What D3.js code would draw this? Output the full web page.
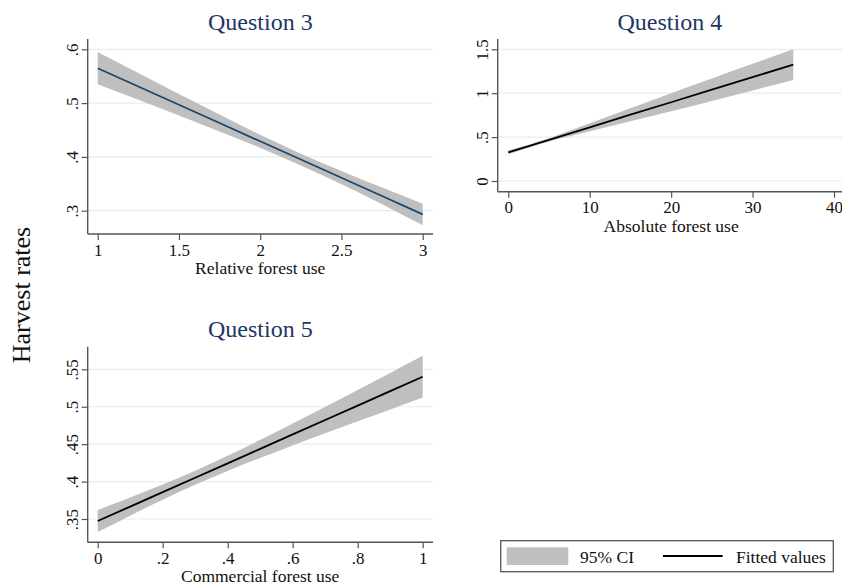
<!DOCTYPE html>
<html>
<head>
<meta charset="utf-8">
<script src="https://cdn.jsdelivr.net/npm/d3@7"></script>
<style>
  html, body { margin: 0; padding: 0; background: #fff; }
  svg { display: block; }
  text { font-family: "Liberation Serif", "Times New Roman", serif; }
</style>
</head>
<body>
<svg id="chart" width="842" height="586"></svg>
<script>
// ---------- DATA ----------
// Question 3 : Relative forest use
const q3X   = [1, 1.25, 1.5, 1.75, 2, 2.25, 2.5, 2.75, 3];
const q3Fit = [0.5647, 0.5308, 0.4969, 0.4630, 0.4290, 0.3951, 0.3612, 0.3273, 0.2933];
const q3Lo  = [0.535, 0.506, 0.477, 0.447, 0.417, 0.384, 0.349, 0.312, 0.273];
const q3Hi  = [0.595, 0.556, 0.517, 0.479, 0.441, 0.406, 0.374, 0.343, 0.313];
const q3XTicks = [1, 1.5, 2, 2.5, 3];
const q3XLabels = ["1", "1.5", "2", "2.5", "3"];
const q3YTicks = [0.3, 0.4, 0.5, 0.6];
const q3YLabels = [".3", ".4", ".5", ".6"];

// Question 4 : Absolute forest use
const q4X   = [0, 5, 10, 15, 20, 25, 30, 35];
const q4Fit = [0.326, 0.469, 0.612, 0.755, 0.897, 1.040, 1.183, 1.326];
const q4Lo  = [0.304, 0.450, 0.567, 0.680, 0.794, 0.912, 1.031, 1.151];
const q4Hi  = [0.348, 0.488, 0.657, 0.830, 1.000, 1.168, 1.335, 1.501];
const q4XTicks = [0, 10, 20, 30, 40];
const q4XLabels = ["0", "10", "20", "30", "40"];
const q4YTicks = [0, 0.5, 1, 1.5];
const q4YLabels = ["0", ".5", "1", "1.5"];

// Question 5 : Commercial forest use
const q5X   = [0, 0.1, 0.2, 0.3, 0.4, 0.5, 0.6, 0.7, 0.8, 0.9, 1];
const q5Fit = [0.3473, 0.3666, 0.3859, 0.4051, 0.4244, 0.4437, 0.4630, 0.4823, 0.5015, 0.5208, 0.5401];
const q5Lo  = [0.3326, 0.3545, 0.3757, 0.3956, 0.4142, 0.4316, 0.4483, 0.4646, 0.4805, 0.4964, 0.5122];
const q5Hi  = [0.3620, 0.3787, 0.3961, 0.4146, 0.4346, 0.4558, 0.4777, 0.5000, 0.5225, 0.5452, 0.5680];
const q5XTicks = [0, 0.2, 0.4, 0.6, 0.8, 1];
const q5XLabels = ["0", ".2", ".4", ".6", ".8", "1"];
const q5YTicks = [0.35, 0.4, 0.45, 0.5, 0.55];
const q5YLabels = [".35", ".4", ".45", ".5", ".55"];

const titles = ["Question 3", "Question 4", "Question 5"];
const xTitles = ["Relative forest use", "Absolute forest use", "Commercial forest use"];
const yTitle = "Harvest rates";
const legendLabels = ["95% CI", "Fitted values"];

// ---------- STYLE ----------
const CI_COLOR = "#bfbfbf";
const TITLE_COLOR = "#1f3566";
const GRID_COLOR = "#e4eef0";
const AXIS_COLOR = "#555555";

const svg = d3.select("#chart");

// panel layout (pixels)
const panels = [
  { x: q3X, fit: q3Fit, lo: q3Lo, hi: q3Hi,
    xd: [1, 3], xr: [97.7, 422.7], yd: [0.3, 0.6], yr: [210.7, 49.3],
    left: 87.7, right: 433, top: 39, bottom: 234,
    xt: q3XTicks, xl: q3XLabels, yt: q3YTicks, yl: q3YLabels,
    title: titles[0], xTitle: xTitles[0], lineColor: "#1a476f" },
  { x: q4X, fit: q4Fit, lo: q4Lo, hi: q4Hi,
    xd: [0, 40], xr: [508.3, 834], yd: [0, 1.5], yr: [181, 49.3],
    left: 497.7, right: 846, top: 39, bottom: 191.7,
    xt: q4XTicks, xl: q4XLabels, yt: q4YTicks, yl: q4YLabels,
    title: titles[1], xTitle: xTitles[1], lineColor: "#000000" },
  { x: q5X, fit: q5Fit, lo: q5Lo, hi: q5Hi,
    xd: [0, 1], xr: [97.7, 422.7], yd: [0.35, 0.55], yr: [519, 369.3],
    left: 87.7, right: 433, top: 346.7, bottom: 542.3,
    xt: q5XTicks, xl: q5XLabels, yt: q5YTicks, yl: q5YLabels,
    title: titles[2], xTitle: xTitles[2], lineColor: "#000000" }
];

panels.forEach(p => {
  const xs = d3.scaleLinear().domain(p.xd).range(p.xr);
  const ys = d3.scaleLinear().domain(p.yd).range(p.yr);
  const g = svg.append("g");
  const centerX = (p.left + Math.min(p.right, 842)) / 2;

  // gridlines
  g.append("g").selectAll("line").data(p.yt).join("line")
    .attr("x1", p.left).attr("x2", p.right)
    .attr("y1", d => ys(d)).attr("y2", d => ys(d))
    .attr("stroke", GRID_COLOR).attr("stroke-width", 1.2);

  // CI band
  const rows = p.x.map((v, i) => ({ x: v, fit: p.fit[i], lo: p.lo[i], hi: p.hi[i] }));
  g.append("path").datum(rows)
    .attr("d", d3.area().x(d => xs(d.x)).y0(d => ys(d.lo)).y1(d => ys(d.hi)).curve(d3.curveMonotoneX))
    .attr("fill", CI_COLOR);

  // fitted line
  g.append("path").datum(rows)
    .attr("d", d3.line().x(d => xs(d.x)).y(d => ys(d.fit)))
    .attr("fill", "none").attr("stroke", p.lineColor).attr("stroke-width", 1.8);

  // y axis
  const ya = g.append("g").attr("transform", `translate(${p.left},0)`)
    .call(d3.axisLeft(ys).tickValues(p.yt).tickSize(6).tickSizeOuter(0)
      .tickFormat((d, i) => p.yl[i]));
  ya.select(".domain").remove();
  ya.selectAll(".tick line").attr("stroke", AXIS_COLOR).attr("stroke-width", 1.2);
  ya.selectAll(".tick text")
    .attr("transform", "rotate(-90)")
    .attr("x", 0).attr("y", -10).attr("dy", 0)
    .attr("text-anchor", "middle")
    .attr("fill", "#111").style("font-size", "17px");
  g.append("line").attr("x1", p.left).attr("x2", p.left)
    .attr("y1", p.top).attr("y2", p.bottom)
    .attr("stroke", AXIS_COLOR).attr("stroke-width", 1.4);

  // x axis
  const xa = g.append("g").attr("transform", `translate(0,${p.bottom})`)
    .call(d3.axisBottom(xs).tickValues(p.xt).tickSize(6).tickSizeOuter(0)
      .tickFormat((d, i) => p.xl[i]));
  xa.select(".domain").remove();
  xa.selectAll(".tick line").attr("stroke", AXIS_COLOR).attr("stroke-width", 1.2);
  xa.selectAll(".tick text").attr("y", 9).attr("dy", "0.75em")
    .attr("fill", "#111").style("font-size", "17px");
  g.append("line").attr("x1", p.left).attr("x2", p.right)
    .attr("y1", p.bottom).attr("y2", p.bottom)
    .attr("stroke", AXIS_COLOR).attr("stroke-width", 1.4);

  // x-axis title
  g.append("text").attr("x", (p.xr[0] + p.xr[1]) / 2).attr("y", p.bottom + 40)
    .attr("text-anchor", "middle").attr("fill", "#111")
    .style("font-size", "17.5px").text(p.xTitle);

  // panel title
  g.append("text").attr("x", centerX).attr("y", 29.5 + (p.top - 39))
    .attr("text-anchor", "middle").attr("fill", TITLE_COLOR)
    .style("font-size", "24px").text(p.title);
});

// left overall y title
svg.append("text")
  .attr("transform", "translate(30,295) rotate(-90)")
  .attr("text-anchor", "middle").attr("fill", "#111")
  .style("font-size", "26px").text(yTitle);

// legend
const lg = svg.append("g");
lg.append("rect").attr("x", 500.7).attr("y", 540.7).attr("width", 332.6).attr("height", 31)
  .attr("fill", "#fff").attr("stroke", "#555").attr("stroke-width", 1.3);
lg.append("rect").attr("x", 506.7).attr("y", 547.3).attr("width", 61.6).attr("height", 17.7)
  .attr("fill", CI_COLOR);
lg.append("text").attr("x", 580).attr("y", 562.5).attr("fill", "#111")
  .style("font-size", "17.5px").text(legendLabels[0]);
lg.append("line").attr("x1", 663).attr("x2", 722.7).attr("y1", 556).attr("y2", 556)
  .attr("stroke", "#000").attr("stroke-width", 1.8);
lg.append("text").attr("x", 736).attr("y", 562.5).attr("fill", "#111")
  .style("font-size", "17.5px").text(legendLabels[1]);
</script>
</body>
</html>
